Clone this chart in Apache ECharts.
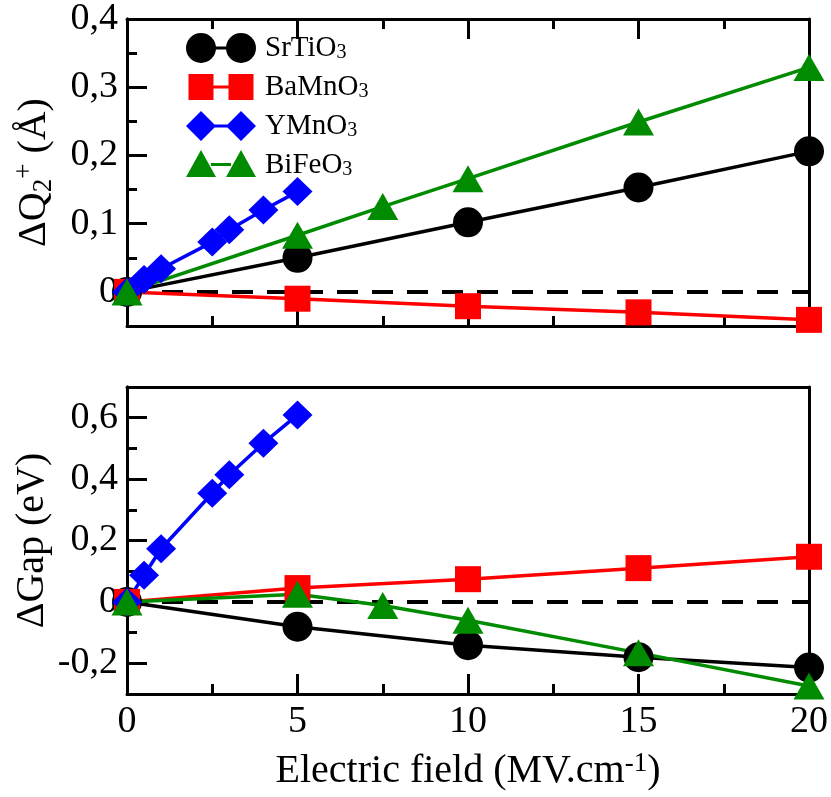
<!DOCTYPE html>
<html>
<head>
<meta charset="utf-8">
<script src="https://cdn.jsdelivr.net/npm/echarts@6/dist/echarts.min.js"></script>
<style>html,body{margin:0;padding:0;background:#fff;}#c{width:831px;height:797px;}</style>
</head>
<body>
<div id="c"></div>
<script>
// ---- data ----
const seriesNames = ['SrTiO3', 'BaMnO3', 'YMnO3', 'BiFeO3'];
const fieldMain = [0, 5, 10, 15, 20];
const fieldBiFeO3 = [0, 5, 7.5, 10, 15, 20];
const fieldYMnO3 = [0, 0.5, 1, 2.5, 3, 4, 5];
const zeroLineX = [0, 20];
const zeroLineY = [0, 0];

const dQ_SrTiO3 = [0, 0.050, 0.102, 0.153, 0.206];
const dQ_BaMnO3 = [0, -0.010, -0.021, -0.030, -0.041];
const dQ_YMnO3 = [0, 0.018, 0.034, 0.073, 0.091, 0.120, 0.147];
const dQ_BiFeO3 = [0, 0.083, 0.125, 0.166, 0.249, 0.329];

const gap_SrTiO3 = [0, -0.081, -0.141, -0.180, -0.214];
const gap_BaMnO3 = [0, 0.045, 0.074, 0.110, 0.147];
const gap_YMnO3 = [0, 0.087, 0.173, 0.354, 0.414, 0.517, 0.609];
const gap_BiFeO3 = [0, 0.025, -0.012, -0.060, -0.166, -0.274];

const topMajorTicks = [0, 0.1, 0.2, 0.3, 0.4];
const topMinorTicks = [0.05, 0.15, 0.25, 0.35];
const botMajorTicks = [-0.2, 0, 0.2, 0.4, 0.6];
const botMinorTicks = [-0.1, 0.1, 0.3, 0.5];

// ---- styling ----
const FONT = '"Liberation Serif", "Times New Roman", serif';
const colors = {SrTiO3: '#000000', BaMnO3: '#ff0000', YMnO3: '#0000ff', BiFeO3: '#008b00'};
const symbols = {SrTiO3: 'circle', BaMnO3: 'rect', YMnO3: 'diamond', BiFeO3: 'triangle'};
const symSizes = {SrTiO3: 30, BaMnO3: 26, YMnO3: [30, 29], BiFeO3: [31, 27]};
const legendIcons = {
  SrTiO3: 'path://M0,0M74,30M0,15A15,15 0 1,1 30,15A15,15 0 1,1 0,15ZM40,15A15,15 0 1,1 70,15A15,15 0 1,1 40,15ZM28,13.5L42,13.5L42,16.5L28,16.5Z',
  BaMnO3: 'path://M0,0M74,30M2.5,2L27.5,2L27.5,28L2.5,28ZM42.5,2L67.5,2L67.5,28L42.5,28ZM27,13.5L43,13.5L43,16.5L27,16.5Z',
  YMnO3: 'path://M0,0M74,30M0,15L15,0L30,15L15,30ZM40,15L55,0L70,15L55,30ZM28,13.5L42,13.5L42,16.5L28,16.5Z',
  BiFeO3: 'path://M0,0M74,30M15,0L30,27L0,27ZM55,0L70,27L40,27ZM25,13L45,13L45,16L25,16Z'
};

function pairs(xs, ys) { return xs.map((x, i) => [x, ys[i]]); }
function fmt(v) {
  if (Math.abs(v) < 1e-9) return '0';
  return v.toFixed(1).replace('.', ',');
}

const tickStyle = {color: '#000', width: 3};
const lineStyleAx = {color: '#000', width: 3};
const labelStyle = {fontFamily: FONT, fontSize: 38, color: '#000'};

function xAxisDef(gridIndex, position, showLabels, showTicks) {
  return {
    type: 'value', gridIndex: gridIndex, position: position, min: 0, max: 20, interval: 5,
    axisLine: {show: true, onZero: false, lineStyle: lineStyleAx},
    axisTick: {show: showTicks, inside: true, length: 20, lineStyle: tickStyle},
    minorTick: {show: showTicks, splitNumber: 2, length: 10, lineStyle: tickStyle},
    splitLine: {show: false}, minorSplitLine: {show: false},
    axisLabel: Object.assign({show: showLabels, margin: 9}, labelStyle)
  };
}
function yAxisDef(gridIndex, position, min, max, ticks, tickLen, showLabels, showTicks) {
  return {
    type: 'value', gridIndex: gridIndex, position: position, offset: 0, min: min, max: max,
    axisLine: {show: true, onZero: false, lineStyle: lineStyleAx},
    axisTick: {show: showTicks, inside: true, length: tickLen, lineStyle: tickStyle, customValues: ticks},
    splitLine: {show: false},
    axisLabel: Object.assign({show: showLabels, margin: 9, formatter: fmt, customValues: ticks}, labelStyle)
  };
}
// axes that only carry a title (no line, ticks or labels)
function nameAxis(kind, gridIndex, position, min, max, name, gap, textStyle) {
  return {
    type: 'value', gridIndex: gridIndex, position: position, offset: 0, min: min, max: max,
    axisLine: {show: false, onZero: false}, axisTick: {show: false}, axisLabel: {show: false},
    splitLine: {show: false},
    name: name, nameLocation: 'middle', nameGap: gap, nameTextStyle: textStyle
  };
}

const yTopName = nameAxis('y', 0, 'left', -0.05, 0.4, '{a|ΔQ}{sub|2}{sup|+}{a| (Å)}', 70, {
  fontFamily: FONT, color: '#000',
  rich: {
    a: {fontFamily: FONT, fontSize: 40, color: '#000', lineHeight: 46},
    sub: {fontFamily: FONT, fontSize: 27, color: '#000', lineHeight: 8, verticalAlign: 'bottom'},
    sup: {fontFamily: FONT, fontSize: 27, color: '#000', lineHeight: 2, verticalAlign: 'top'}
  }
});
const yBotName = nameAxis('y', 1, 'left', -0.3, 0.7, 'ΔGap (eV)', 74,
  {fontFamily: FONT, fontSize: 40, color: '#000', lineHeight: 42});
const xBotName = nameAxis('x', 1, 'bottom', 0, 20, '{a|Electric field (MV.cm}{sup|-1}{a|)}', 56, {
  fontFamily: FONT, color: '#000',
  rich: {
    a: {fontFamily: FONT, fontSize: 40, color: '#000', lineHeight: 42},
    sup: {fontFamily: FONT, fontSize: 27, color: '#000', lineHeight: 2, verticalAlign: 'top'}
  }
});

function lineSeries(name, xs, ys, xi, yi) {
  const c = colors[name];
  return {
    type: 'line', name: name, xAxisIndex: xi, yAxisIndex: yi,
    data: pairs(xs, ys), clip: false, animation: false,
    symbol: symbols[name], symbolSize: symSizes[name], showSymbol: true,
    color: c, itemStyle: {color: c, borderWidth: 0}, lineStyle: {color: c, width: 3.5},
    emphasis: {disabled: true}, z: 3
  };
}
function zeroSeries(xi, yi) {
  return {
    type: 'line', name: 'zero', xAxisIndex: xi, yAxisIndex: yi,
    data: pairs(zeroLineX, zeroLineY), symbol: 'none', animation: false, silent: true,
    lineStyle: {color: '#000', width: 4, type: [21, 14]}, z: 2
  };
}

const option = {
  animation: false,
  backgroundColor: '#fff',
  grid: [
    {left: 127, top: 18, width: 682, height: 308},
    {left: 127, top: 387, width: 682, height: 307}
  ],
  xAxis: [
    xAxisDef(0, 'bottom', false, true),
    xAxisDef(0, 'top', false, true),
    xAxisDef(1, 'bottom', true, true),
    xAxisDef(1, 'top', false, false),
    xBotName
  ],
  yAxis: [
    yAxisDef(0, 'left', -0.05, 0.4, topMajorTicks, 20, true, true),
    yAxisDef(0, 'left', -0.05, 0.4, topMinorTicks, 10, false, true),
    yAxisDef(0, 'right', -0.05, 0.4, topMajorTicks, 10, false, false),
    yAxisDef(1, 'left', -0.3, 0.7, botMajorTicks, 20, true, true),
    yAxisDef(1, 'left', -0.3, 0.7, botMinorTicks, 10, false, true),
    yAxisDef(1, 'right', -0.3, 0.7, botMajorTicks, 10, false, false),
    yTopName,
    yBotName
  ],
  legend: {
    orient: 'vertical', left: 186, top: 33, padding: 0, itemGap: 9,
    itemWidth: 74, itemHeight: 30, selectedMode: false,
    itemStyle: {borderWidth: 0},
    data: seriesNames.map(n => ({name: n, icon: legendIcons[n]})),
    formatter: function (name) { return '{a|' + name.slice(0, -1) + '}{s|' + name.slice(-1) + '}'; },
    textStyle: {
      fontFamily: FONT, color: '#000',
      rich: {
        a: {fontFamily: FONT, fontSize: 29, color: '#000', lineHeight: 30},
        s: {fontFamily: FONT, fontSize: 20, color: '#000', lineHeight: 4, verticalAlign: 'bottom'}
      }
    }
  },
  series: [
    zeroSeries(0, 0),
    lineSeries('SrTiO3', fieldMain, dQ_SrTiO3, 0, 0),
    lineSeries('BaMnO3', fieldMain, dQ_BaMnO3, 0, 0),
    lineSeries('YMnO3', fieldYMnO3, dQ_YMnO3, 0, 0),
    lineSeries('BiFeO3', fieldBiFeO3, dQ_BiFeO3, 0, 0),
    zeroSeries(2, 3),
    lineSeries('SrTiO3', fieldMain, gap_SrTiO3, 2, 3),
    lineSeries('BaMnO3', fieldMain, gap_BaMnO3, 2, 3),
    lineSeries('YMnO3', fieldYMnO3, gap_YMnO3, 2, 3),
    lineSeries('BiFeO3', fieldBiFeO3, gap_BiFeO3, 2, 3)
  ]
};

const chart = echarts.init(document.getElementById('c'), null, {renderer: 'canvas'});
chart.setOption(option);
</script>
</body>
</html>
